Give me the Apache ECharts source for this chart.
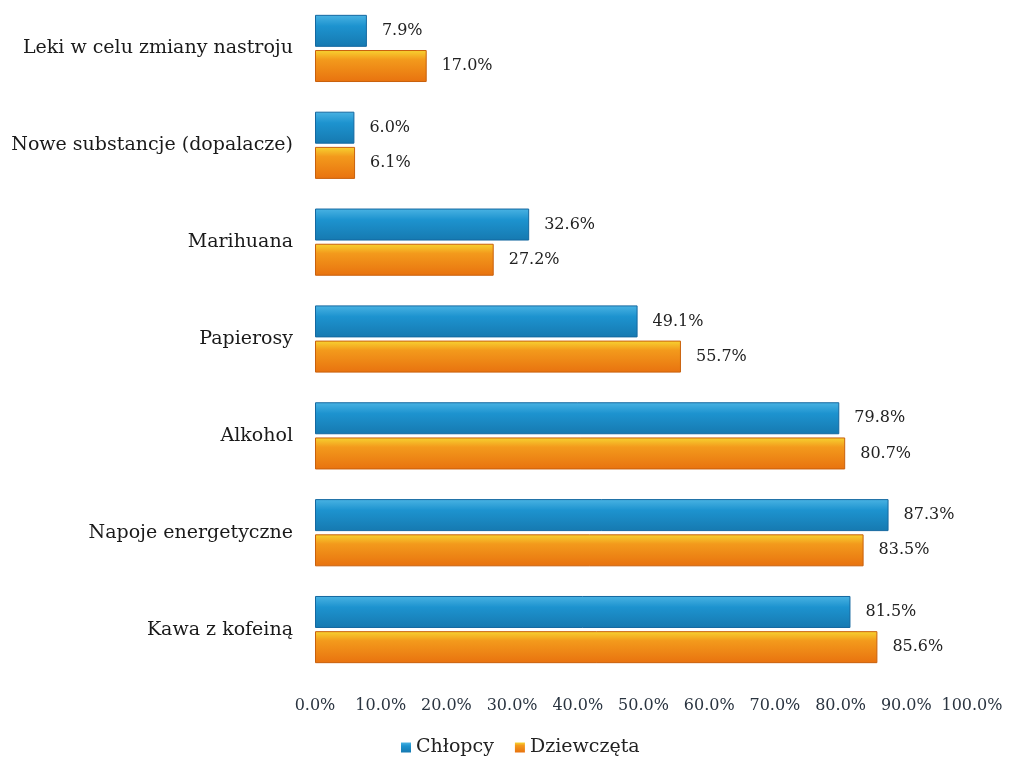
<!DOCTYPE html>
<html>
<head>
<meta charset="utf-8">
<script src="https://cdn.jsdelivr.net/npm/echarts@6/dist/echarts.min.js"></script>
<style>
  html,body{margin:0;padding:0;background:#fff;}
  #chart{width:1010px;height:762px;}
</style>
</head>
<body>
<div id="chart"></div>
<script>
// categories listed top to bottom
const categories = ["Leki w celu zmiany nastroju","Nowe substancje (dopalacze)","Marihuana","Papierosy","Alkohol","Napoje energetyczne","Kawa z kofeiną"]
const chlopcy = [7.9, 6.0, 32.6, 49.1, 79.8, 87.3, 81.5]
const dziewczeta = [17.0, 6.1, 27.2, 55.7, 80.7, 83.5, 85.6]
const xTicks = {min:0, max:100, interval:10}

let myChart = echarts.init(document.getElementById("chart"))
const serif = "'DejaVu Serif','Liberation Serif',serif"

function pct(v){ return v.toFixed(1) + "%" }

myChart.setOption({
    animation:false,
    textStyle:{fontFamily:serif},
    grid:{
        left:315,
        right:38,
        top:-13,
        bottom:84,
        containLabel:false
    },
    legend:{
        data:["Chłopcy","Dziewczęta"],
        bottom:0,
        left:396,
        icon:"rect",
        itemWidth:10,
        itemHeight:10,
        itemGap:21,
        itemStyle:{borderWidth:0},
        textStyle:{fontFamily:serif,fontSize:19,color:"#222"}
    },
    xAxis:{
        type:"value",
        min:xTicks.min,
        max:xTicks.max,
        interval:xTicks.interval,
        splitLine:{show:false},
        axisLine:{show:false},
        axisTick:{show:false},
        axisLabel:{
            formatter:pct,
            fontFamily:serif,
            fontSize:16,
            color:"#2a3440",
            margin:20,
            hideOverlap:false
        }
    },
    yAxis:{
        type:"category",
        data:categories,
        inverse:true,
        axisLine:{show:false},
        axisTick:{show:false},
        axisLabel:{
            fontFamily:serif,
            fontSize:19,
            color:"#1a1a1a",
            margin:22
        }
    },
    series:[
        {
            type:"bar",
            name:"Chłopcy",
            data:chlopcy,
            barWidth:32,
            barGap:"10%",
            itemStyle:{
                color:new echarts.graphic.LinearGradient(0,0,0,1,[
                    {offset:0,color:"#4ab3e3"},
                    {offset:0.35,color:"#1d93cf"},
                    {offset:1,color:"#1679b0"}
                ]),
                borderColor:"#1468a0",
                borderWidth:1
            },
            label:{
                show:true,
                position:"right",
                distance:15,
                formatter:(p)=>pct(p.value),
                fontFamily:serif,
                fontSize:16,
                color:"#222"
            }
        },
        {
            type:"bar",
            name:"Dziewczęta",
            data:dziewczeta,
            barWidth:32,
            itemStyle:{
                color:new echarts.graphic.LinearGradient(0,0,0,1,[
                    {offset:0,color:"#f7d431"},
                    {offset:0.3,color:"#f39a1c"},
                    {offset:1,color:"#e8720f"}
                ]),
                borderColor:"#c9600c",
                borderWidth:1
            },
            label:{
                show:true,
                position:"right",
                distance:15,
                formatter:(p)=>pct(p.value),
                fontFamily:serif,
                fontSize:16,
                color:"#222"
            }
        }
    ]
})
</script>
</body>
</html>
